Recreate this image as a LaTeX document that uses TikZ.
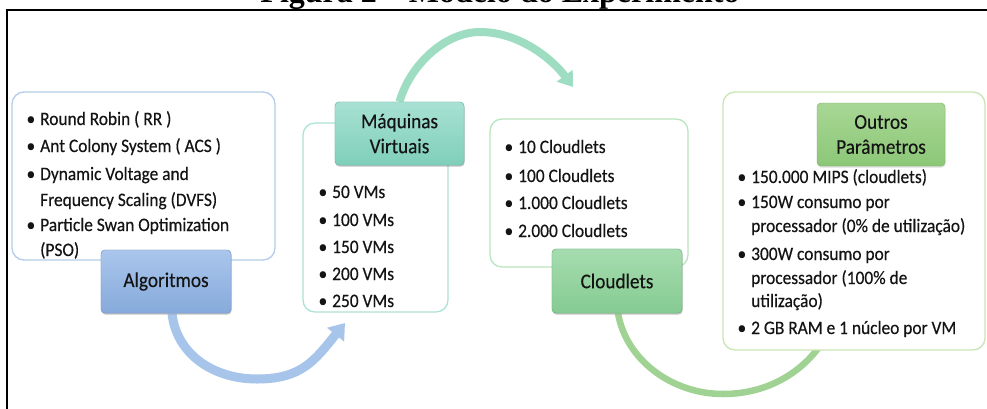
\documentclass[tikz,border=0pt]{standalone}
\usepackage{fontspec}
\setmainfont{Carlito}
\newfontfamily\bodyfont[FakeStretch=0.915,FakeBold=0.35]{Carlito}
\newfontfamily\titlefont{Liberation Serif}
\usetikzlibrary{arrows.meta,shadows}
\definecolor{blueB}{HTML}{B3CDEB}
\definecolor{tabBlueT}{HTML}{AAC6EC}
\definecolor{tabBlueB}{HTML}{86AADB}
\definecolor{tabBlueD}{HTML}{7C9CC8}
\definecolor{arrBlue}{HTML}{A7C4EB}
\definecolor{tealB}{HTML}{ACE3D5}
\definecolor{tabTealT}{HTML}{A8E1D3}
\definecolor{tabTealB}{HTML}{7FCFBA}
\definecolor{tabTealD}{HTML}{6FB9A6}
\definecolor{arrTeal}{HTML}{9EDDC2}
\definecolor{greenB}{HTML}{B9E6C0}
\definecolor{tabGreenT}{HTML}{A6DCAF}
\definecolor{tabGreenB}{HTML}{85CB92}
\definecolor{tabGreenD}{HTML}{74B481}
\definecolor{arrGreen}{HTML}{A0D393}
\definecolor{oliveB}{HTML}{C8E5B3}
\definecolor{tabOliveT}{HTML}{A8D795}
\definecolor{tabOliveB}{HTML}{8CC777}
\definecolor{tabOliveD}{HTML}{7BAF68}
\definecolor{ink}{HTML}{141414}
\newcommand\bul{\llap{\textbullet\hspace{5pt}}}
\tikzset{
  panel/.style={draw, line width=1.3pt, rounded corners=12pt, fill=white, inner sep=0pt, anchor=center},
  tabbox/.style={rounded corners=4pt, inner sep=0pt, anchor=center, align=center, text=ink,
     font=\bodyfont\fontsize{21}{25}\selectfont,
     drop shadow={opacity=0.25, shadow xshift=0.6pt, shadow yshift=-1.6pt}},
  item/.style={anchor=base west, inner sep=0pt, text=ink, font=\bodyfont\fontsize{19}{23}\selectfont},
  flow/.style={line cap=butt}
}
\begin{document}
\begin{tikzpicture}[x=1pt,y=-1pt]
\useasboundingbox (0,0) rectangle (987,408);
\clip (0,0) rectangle (987,408);
\fill[white] (0,0) rectangle (987,408);
% title (cut by the top edge) and frame
\node[anchor=base, inner sep=0pt, font=\titlefont\bfseries\fontsize{32}{36}\selectfont] (title) at (500,2) {Figura 2 – Modelo do Experimento};
\draw[line width=2pt] (7,430) -- (7,9.5) -- (1000,9.5);

% coordinates for connectors
\coordinate (blow) at (257,379);
\coordinate (vmin) at (345,323);
\coordinate (ttop) at (480,32);
\coordinate (clin) at (573,87);
\coordinate (glow) at (723,394);
\coordinate (otin) at (830,330);

% panels
\node[panel, draw=blueB, minimum width=263pt, minimum height=168pt] (p1) at (143.5,176) {};
\node[panel, draw=tealB, minimum width=145pt, minimum height=189pt] (p2) at (375.5,217.5) {};
\node[panel, draw=greenB, minimum width=198pt, minimum height=148pt] (p3) at (589,193) {};

% tabs (before arrows so coordinates exist)
\node[tabbox, draw=tabBlueD, top color=tabBlueT, bottom color=tabBlueB, minimum width=130pt, minimum height=63pt] (alg) at (166,281.5) {Algoritmos};
\node[tabbox, draw=tabTealD, top color=tabTealT, bottom color=tabTealB, minimum width=129pt, minimum height=63pt] (vm) at (399.5,133.5) {Máquinas\\Virtuais};
\node[tabbox, draw=tabGreenD, top color=tabGreenT, bottom color=tabGreenB, minimum width=130pt, minimum height=64pt] (cl) at (617,281) {Cloudlets};

% connectors
\draw[flow, arrBlue, line width=9pt, -{Triangle[width=21pt,length=15pt]}]
  ([xshift=6pt]alg.south) .. controls (176,353) and (212,379) .. (blow)
  .. controls (302,379) and (315,360) .. (vmin);
\draw[flow, arrTeal, line width=8pt, -{Triangle[width=19pt,length=14pt]}]
  (vm.north) .. controls (410,65) and (445,32) .. (ttop)
  .. controls (520,32) and (553,60) .. (clin);
\draw[flow, arrGreen, line width=6.5pt, -{Triangle[width=17pt,length=13pt]}]
  ([xshift=1pt]cl.south) .. controls (626,360) and (672,394) .. (glow)
  .. controls (770,394) and (805,370) .. (otin);

% redraw tabs on top of connector ends
\node[tabbox, draw=tabTealD, top color=tabTealT, bottom color=tabTealB, minimum width=129pt, minimum height=63pt] (vm2) at (399.5,133.5) {Máquinas\\Virtuais};
\node[tabbox, draw=tabGreenD, top color=tabGreenT, bottom color=tabGreenB, minimum width=130pt, minimum height=64pt] (cl2) at (617,281) {Cloudlets};

% fourth panel covers the green connector end
\node[panel, draw=oliveB, minimum width=262pt, minimum height=258pt] (p4) at (854,221) {};
\node[tabbox, draw=tabOliveD, top color=tabOliveT, bottom color=tabOliveB, minimum width=128pt, minimum height=63pt] (op) at (881,134.5) {Outros\\Parâmetros};

% panel 1 items
\node[item] (a1) at (40,125) {\bul Round Robin ( RR )};
\node[item] (a2) at (40,152) {\bul Ant Colony System ( ACS )};
\node[item] (a3) at (40,180) {\bul Dynamic Voltage and};
\node[item] (a4) at (40,206) {Frequency Scaling (DVFS)};
\node[item] (a5) at (40,231) {\bul Particle Swan Optimization};
\node[item] (a6) at (40,256) {(PSO)};
% Algoritmos tab above the connector start and the (PSO) line
\node[tabbox, draw=tabBlueD, top color=tabBlueT, bottom color=tabBlueB, minimum width=130pt, minimum height=63pt] (alg2) at (166,281.5) {Algoritmos};

% panel 2 items
\node[item] (b1) at (332,198) {\bul 50 VMs};
\node[item] (b2) at (332,226) {\bul 100 VMs};
\node[item] (b3) at (332,253) {\bul 150 VMs};
\node[item] (b4) at (332,280) {\bul 200 VMs};
\node[item] (b5) at (332,307) {\bul 250 VMs};

% panel 3 items
\node[item] (c1) at (518,153) {\bul 10 Cloudlets};
\node[item] (c2) at (518,182) {\bul 100 Cloudlets};
\node[item] (c3) at (518,209) {\bul 1.000 Cloudlets};
\node[item] (c4) at (518,237) {\bul 2.000 Cloudlets};

% panel 4 items
\node[item] (d1) at (751,183) {\bul 150.000 MIPS (cloudlets)};
\node[item] (d2) at (751,208) {\bul 150W consumo por};
\node[item] (d3) at (751,232) {processador (0\% de utilização)};
\node[item] (d4) at (751,260) {\bul 300W consumo por};
\node[item] (d5) at (751,284) {processador (100\% de};
\node[item] (d6) at (751,307) {utilização)};
\node[item] (d7) at (751,334) {\bul 2 GB RAM e 1 núcleo por VM};
\end{tikzpicture}
\end{document}
